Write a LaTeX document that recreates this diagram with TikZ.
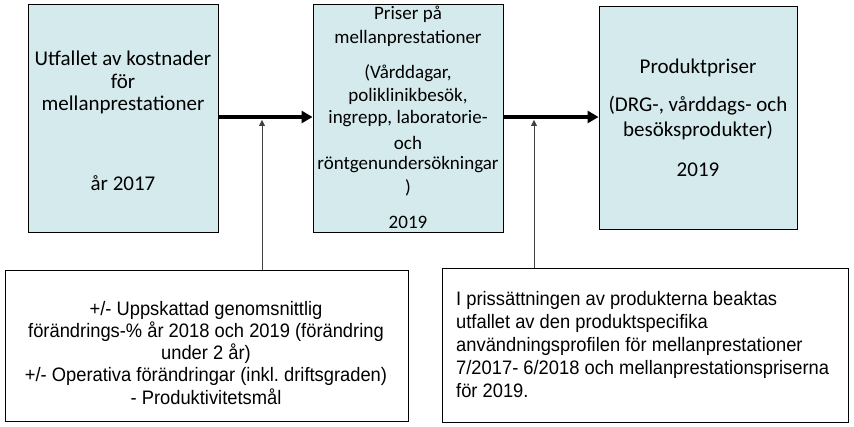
\documentclass[tikz,border=0pt]{standalone}
\usepackage{fontspec}
\setmainfont{Carlito}
\newfontfamily\arialn[FakeStretch=0.94]{Liberation Sans}
\usetikzlibrary{arrows.meta}
\definecolor{boxfill}{RGB}{212,234,236}
\begin{document}
\begin{tikzpicture}[x=1pt,y=-1pt,
  topbox/.style={draw=black,line width=0.9pt,fill=boxfill,inner sep=0pt},
  botbox/.style={draw=black,line width=0.9pt,fill=white,inner sep=0pt},
  ttext/.style={font=\fontsize{21}{24}\selectfont,inner sep=0pt,anchor=center},
  stext/.style={font=\fontsize{19}{23}\selectfont,inner sep=0pt,anchor=center},
  btext/.style={font=\arialn\fontsize{19.5}{22}\selectfont,inner sep=0pt},
  thick arrow/.style={line width=4pt,-{Triangle[length=11pt,width=12pt]}},
  thin arrow/.style={draw=black!75,line width=0.8pt,-{Triangle[length=6pt,width=6pt]}}]
\useasboundingbox (0,0) rectangle (854,427);
\fill[white] (0,0) rectangle (854,427);
% top boxes
\node[topbox,minimum width=190pt,minimum height=228pt] (b1) at (123,118) {};
\node[topbox,minimum width=190pt,minimum height=228pt] (b2) at (408,118) {};
\node[topbox,minimum width=198pt,minimum height=223pt] (b3) at (698,117.5) {};
% texts box1
\node[ttext] (t11) at (123,58) {Utfallet av kostnader};
\node[ttext] (t12) at (123,81) {för};
\node[ttext] (t13) at (123,105) {mellanprestationer};
\node[ttext] (t14) at (123,183) {år 2017};
% texts box2
\node[stext] (t21) at (408,14) {Priser på};
\node[stext] (t22) at (408,38) {mellanprestationer};
\node[stext] (t23) at (408,73) {(Vårddagar,};
\node[stext] (t24) at (408,96) {poliklinikbesök,};
\node[stext] (t25) at (408,119) {ingrepp, laboratorie-};
\node[stext] (t26) at (408,143) {och};
\node[stext] (t27) at (408,165) {röntgenundersökningar};
\node[stext] (t28) at (408,188) {)};
\node[stext] (t29) at (408,222) {2019};
% texts box3
\node[ttext] (t31) at (698,68) {Produktpriser};
\node[ttext] (t32) at (698,106) {(DRG-, vårddags- och};
\node[ttext] (t33) at (698,131) {besöksprodukter)};
\node[ttext] (t34) at (698,170) {2019};
% bottom boxes
\node[botbox,minimum width=403pt,minimum height=151pt] (lb) at (206.5,345.5) {};
\node[botbox,minimum width=406pt,minimum height=154pt] (rb) at (645,345) {};
\node[btext,anchor=base] (l1) at (206,316) {+/- Uppskattad genomsnittlig};
\node[btext,anchor=base] (l2) at (206,338) {förändrings-\% år 2018 och 2019 (förändring};
\node[btext,anchor=base] (l3) at (206,360) {under 2 år)};
\node[btext,anchor=base] (l4) at (206,382) {+/- Operativa förändringar (inkl.\ driftsgraden)};
\node[btext,anchor=base] (l5) at (206,404) {- Produktivitetsmål};
\node[btext,anchor=base west] (r1) at (456,306) {I prissättningen av produkterna beaktas};
\node[btext,anchor=base west] (r2) at (456,329) {utfallet av den produktspecifika};
\node[btext,anchor=base west] (r3) at (456,352) {användningsprofilen för mellanprestationer};
\node[btext,anchor=base west] (r4) at (456,375) {7/2017- 6/2018 och mellanprestationspriserna};
\node[btext,anchor=base west] (r5) at (456,398) {för 2019.};
% arrows
\draw[thick arrow] (b1.east |- 0,117) -- (b2.west |- 0,117);
\draw[thick arrow] (b2.east |- 0,117) -- (b3.west |- 0,117);
\coordinate (a1) at (262,120);
\coordinate (a2) at (534,120);
\draw[thin arrow] (lb.north -| a1) -- (a1);
\draw[thin arrow] (rb.north -| a2) -- (a2);
\end{tikzpicture}
\end{document}
